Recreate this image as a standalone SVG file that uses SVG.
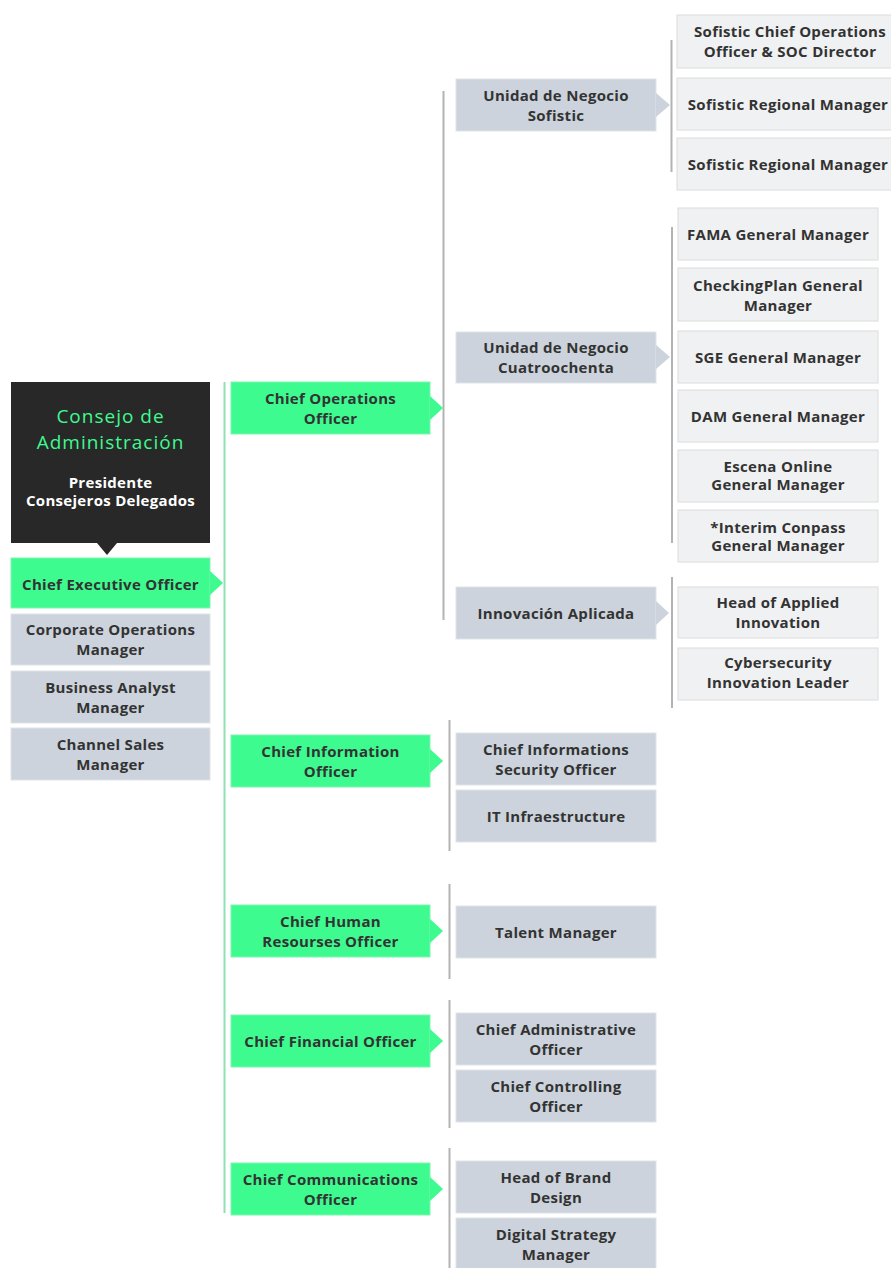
<svg xmlns="http://www.w3.org/2000/svg" width="891" height="1268" viewBox="0 0 891 1268">
<style>
text{font-family:"Open Sans",Lato,"Liberation Sans",sans-serif;font-weight:700;font-size:15px;letter-spacing:0.3px;fill:#333;text-anchor:middle;dominant-baseline:central}
.g{fill:#3dfb8f;stroke:#7ef5b0;stroke-width:1}
.b{fill:#ccd3dc;stroke:#dfe3e8;stroke-width:1}
.l{fill:#f0f1f2;stroke:#dcdcdc;stroke-width:1}
.ga{fill:#3dfb8f}
.ba{fill:#ccd3dc}
.gl{stroke:#8fe0b3;stroke-width:2;fill:none}
.cl{stroke:#b3b3b3;stroke-width:2;fill:none}
.title{fill:#3dfb8f;font-weight:500;font-size:19px;letter-spacing:1px}
.sub{fill:#ffffff;font-size:15px}
</style>
<rect width="891" height="1268" fill="#ffffff"/>
<g id="connectors">
<line class="gl" x1="224.5" y1="382" x2="224.5" y2="1213"/>
<line class="cl" x1="443.5" y1="91" x2="443.5" y2="620"/>
<line class="cl" x1="449.5" y1="720" x2="449.5" y2="851"/>
<line class="cl" x1="449.5" y1="884" x2="449.5" y2="979"/>
<line class="cl" x1="449.5" y1="1000" x2="449.5" y2="1128"/>
<line class="cl" x1="449.5" y1="1148" x2="449.5" y2="1268"/>
<line class="cl" x1="671.5" y1="40" x2="671.5" y2="172"/>
<line class="cl" x1="672" y1="227" x2="672" y2="543"/>
<line class="cl" x1="672" y1="577" x2="672" y2="708"/>
</g>
<g id="consejo">
<rect x="11" y="382" width="199" height="161" fill="#282828"/>
<polygon points="97,543 117,543 107,555" fill="#282828"/>
<text class="title" x="110.5" y="416">Consejo de</text>
<text class="title" x="110.5" y="442">Administración</text>
<text class="sub" x="110.5" y="482">Presidente</text>
<text class="sub" x="110.5" y="500">Consejeros Delegados</text>
</g>
<g id="ceo">
<rect class="g" x="11" y="558" width="199" height="50"/>
<polygon class="ga" points="210,571 223,583 210,595"/>
<text x="110.5" y="584">Chief Executive Officer</text>
</g>
<g id="corp-ops">
<rect class="b" x="11" y="614" width="199" height="51"/>
<text x="110.5" y="629">Corporate Operations</text>
<text x="110.5" y="649">Manager</text>
</g>
<g id="business-analyst">
<rect class="b" x="11" y="671" width="199" height="52"/>
<text x="110.5" y="687">Business Analyst</text>
<text x="110.5" y="707">Manager</text>
</g>
<g id="channel-sales">
<rect class="b" x="11" y="728" width="199" height="52"/>
<text x="110.5" y="744">Channel Sales</text>
<text x="110.5" y="764">Manager</text>
</g>
<g id="coo">
<rect class="g" x="231" y="382" width="199" height="52"/>
<polygon class="ga" points="430,396 443,408 430,420"/>
<text x="330.5" y="398">Chief Operations</text>
<text x="330.5" y="418">Officer</text>
</g>
<g id="cio">
<rect class="g" x="231" y="735" width="199" height="52"/>
<polygon class="ga" points="430,749 443,761 430,773"/>
<text x="330.5" y="751">Chief Information</text>
<text x="330.5" y="771">Officer</text>
</g>
<g id="chro">
<rect class="g" x="231" y="905" width="199" height="52"/>
<polygon class="ga" points="430,919 443,931 430,943"/>
<text x="330.5" y="921">Chief Human</text>
<text x="330.5" y="941">Resourses Officer</text>
</g>
<g id="cfo">
<rect class="g" x="231" y="1015" width="199" height="52"/>
<polygon class="ga" points="430,1029 443,1041 430,1053"/>
<text x="330.5" y="1041">Chief Financial Officer</text>
</g>
<g id="cco">
<rect class="g" x="231" y="1163" width="199" height="52"/>
<polygon class="ga" points="430,1177 443,1189 430,1201"/>
<text x="330.5" y="1179">Chief Communications</text>
<text x="330.5" y="1199">Officer</text>
</g>
<g id="un-sofistic">
<rect class="b" x="456" y="79" width="200" height="52"/>
<polygon class="ba" points="656,93 670,105 656,117"/>
<text x="556" y="95">Unidad de Negocio</text>
<text x="556" y="115">Sofistic</text>
</g>
<g id="un-cuatroochenta">
<rect class="b" x="456" y="332" width="200" height="51"/>
<polygon class="ba" points="656,345 670,357 656,369"/>
<text x="556" y="347">Unidad de Negocio</text>
<text x="556" y="367">Cuatroochenta</text>
</g>
<g id="innovacion">
<rect class="b" x="456" y="587" width="200" height="52"/>
<polygon class="ba" points="656,601 669,613 656,625"/>
<text x="556" y="613">Innovación Aplicada</text>
</g>
<g id="ciso">
<rect class="b" x="456" y="733" width="200" height="52"/>
<text x="556" y="749">Chief Informations</text>
<text x="556" y="769">Security Officer</text>
</g>
<g id="it-infra">
<rect class="b" x="456" y="790" width="200" height="52"/>
<text x="556" y="816">IT Infraestructure</text>
</g>
<g id="talent">
<rect class="b" x="456" y="906" width="200" height="52"/>
<text x="556" y="932">Talent Manager</text>
</g>
<g id="cao">
<rect class="b" x="456" y="1013" width="200" height="52"/>
<text x="556" y="1029">Chief Administrative</text>
<text x="556" y="1049">Officer</text>
</g>
<g id="ccontrolling">
<rect class="b" x="456" y="1070" width="200" height="52"/>
<text x="556" y="1086">Chief Controlling</text>
<text x="556" y="1106">Officer</text>
</g>
<g id="brand">
<rect class="b" x="456" y="1161" width="200" height="52"/>
<text x="556" y="1177">Head of Brand</text>
<text x="556" y="1197">Design</text>
</g>
<g id="digital">
<rect class="b" x="456" y="1218" width="200" height="54"/>
<text x="556" y="1234">Digital Strategy</text>
<text x="556" y="1254">Manager</text>
</g>
<g id="sofistic-coo">
<rect class="l" x="677" y="15" width="222" height="53"/>
<text x="790" y="31">Sofistic Chief Operations</text>
<text x="790" y="51">Officer &amp; SOC Director</text>
</g>
<g id="sofistic-rm1">
<rect class="l" x="677" y="78" width="222" height="52"/>
<text x="788" y="104">Sofistic Regional Manager</text>
</g>
<g id="sofistic-rm2">
<rect class="l" x="677" y="138" width="222" height="52"/>
<text x="788" y="164">Sofistic Regional Manager</text>
</g>
<g id="fama">
<rect class="l" x="678" y="208" width="200" height="52"/>
<text x="778" y="234">FAMA General Manager</text>
</g>
<g id="checkingplan">
<rect class="l" x="678" y="268" width="200" height="53"/>
<text x="778" y="285">CheckingPlan General</text>
<text x="778" y="305">Manager</text>
</g>
<g id="sge">
<rect class="l" x="678" y="331" width="200" height="52"/>
<text x="778" y="357">SGE General Manager</text>
</g>
<g id="dam">
<rect class="l" x="678" y="390" width="200" height="52"/>
<text x="778" y="416">DAM General Manager</text>
</g>
<g id="escena">
<rect class="l" x="678" y="450" width="200" height="52"/>
<text x="778" y="466">Escena Online</text>
<text x="778" y="484">General Manager</text>
</g>
<g id="conpass">
<rect class="l" x="678" y="510" width="200" height="52"/>
<text x="778" y="527">*Interim Conpass</text>
<text x="778" y="545">General Manager</text>
</g>
<g id="applied">
<rect class="l" x="678" y="587" width="200" height="51"/>
<text x="778" y="602">Head of Applied</text>
<text x="778" y="622">Innovation</text>
</g>
<g id="cyber">
<rect class="l" x="678" y="648" width="200" height="52"/>
<text x="778" y="662">Cybersecurity</text>
<text x="778" y="682">Innovation Leader</text>
</g>
</svg>
